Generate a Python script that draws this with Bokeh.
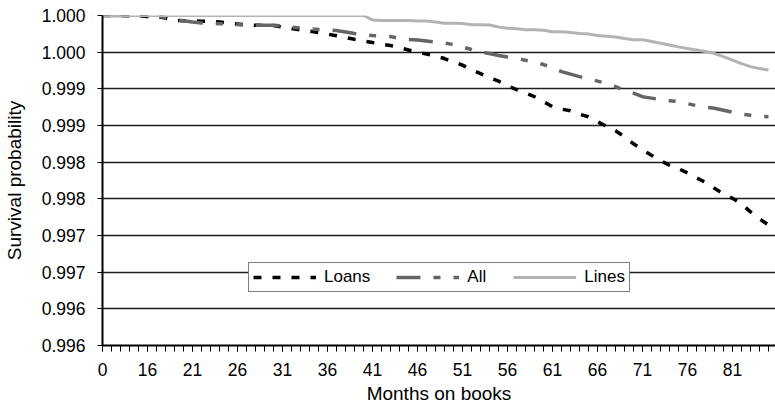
from bokeh.plotting import figure
from bokeh.models import Range1d, FixedTicker, Legend, LegendItem
from bokeh.embed import file_html
from bokeh.resources import INLINE

# Months on books (categories): month 0, then months 12..85
months = [0] + list(range(12, 86))

loans = [1.000000, 1.000000, 1.000000, 0.999996, 0.999993, 0.999986, 0.999986, 0.999966, 0.999932, 0.999928,
         0.999925, 0.999922, 0.999922, 0.999911, 0.999895, 0.999884, 0.999873, 0.999867, 0.999867, 0.999863,
         0.999843, 0.999822, 0.999802, 0.999786, 0.999768, 0.999747, 0.999723, 0.999699, 0.999675, 0.999652,
         0.999631, 0.999611, 0.999590, 0.999563, 0.999529, 0.999501, 0.999474, 0.999447, 0.999413, 0.999365,
         0.999324, 0.999262, 0.999208, 0.999153, 0.999105, 0.999044, 0.998989, 0.998941, 0.998893, 0.998825,
         0.998757, 0.998723, 0.998702, 0.998654, 0.998620, 0.998552, 0.998490, 0.998429, 0.998347, 0.998251,
         0.998169, 0.998094, 0.998019, 0.997958, 0.997910, 0.997855, 0.997787, 0.997725, 0.997643, 0.997568,
         0.997507, 0.997432, 0.997322, 0.997227, 0.997145]

all_ = [1.000000, 1.000000, 1.000000, 1.000000, 1.000000, 1.000000, 0.999993, 0.999973, 0.999939, 0.999928,
        0.999911, 0.999898, 0.999891, 0.999888, 0.999887, 0.999877, 0.999867, 0.999867, 0.999867, 0.999866,
        0.999859, 0.999843, 0.999827, 0.999818, 0.999809, 0.999802, 0.999795, 0.999775, 0.999754, 0.999736,
        0.999727, 0.999720, 0.999713, 0.999686, 0.999672, 0.999665, 0.999652, 0.999638, 0.999624, 0.999604,
        0.999570, 0.999536, 0.999501, 0.999481, 0.999454, 0.999433, 0.999413, 0.999389, 0.999365, 0.999331,
        0.999290, 0.999235, 0.999201, 0.999167, 0.999139, 0.999105, 0.999075, 0.999030, 0.998982, 0.998941,
        0.998893, 0.998873, 0.998852, 0.998839, 0.998825, 0.998798, 0.998771, 0.998750, 0.998736, 0.998709,
        0.998682, 0.998654, 0.998641, 0.998627, 0.998620]

lines = [1.000000] * 30 + [
        0.999939, 0.999932, 0.999932, 0.999932, 0.999932, 0.999925, 0.999925, 0.999911, 0.999895, 0.999895,
        0.999891, 0.999873, 0.999873, 0.999870, 0.999843, 0.999827, 0.999820, 0.999805, 0.999805, 0.999798,
        0.999777, 0.999777, 0.999768, 0.999754, 0.999747, 0.999727, 0.999716, 0.999706, 0.999686, 0.999668,
        0.999668, 0.999645, 0.999622, 0.999597, 0.999572, 0.999549, 0.999529, 0.999508, 0.999481, 0.999440,
        0.999392, 0.999344, 0.999303, 0.999276, 0.999258]

x_tick_labels = ["0", "16", "21", "26", "31", "36", "41", "46", "51", "56", "61", "66", "71", "76", "81"]
y_ticks = [0.9955, 0.996, 0.9965, 0.997, 0.9975, 0.998, 0.9985, 0.999, 0.9995, 1.0]
y_tick_labels = ["0.996", "0.996", "0.997", "0.997", "0.998", "0.998", "0.999", "0.999", "1.000", "1.000"]

FONT = "Liberation Sans"
idx = list(range(len(months)))

p = figure(width=775, height=408, output_backend="svg", toolbar_location=None,
           x_range=Range1d(0, 74.78), y_range=Range1d(0.9955, 1.0),
           min_border_left=102, min_border_top=15, min_border_bottom=63, min_border_right=0)
p.outline_line_color = None
p.background_fill_color = "white"
p.border_fill_color = "white"

major_x = idx[::5]
p.xaxis.ticker = FixedTicker(ticks=major_x, minor_ticks=idx)
p.xaxis.major_label_overrides = {i: lab for i, lab in zip(major_x, x_tick_labels)}
p.xaxis.axis_label = "Months on books"
p.yaxis.ticker = FixedTicker(ticks=y_ticks)
p.yaxis.major_label_overrides = {t: lab for t, lab in zip(y_ticks, y_tick_labels)}
p.yaxis.axis_label = "Survival probability"

for ax in (p.xaxis[0], p.yaxis[0]):
    ax.axis_line_color = "black"
    ax.axis_line_width = 2
    ax.major_tick_line_color = "black"
    ax.minor_tick_line_color = "black"
    ax.major_tick_in = 0
    ax.minor_tick_in = 0
    ax.major_label_text_font = FONT
    ax.major_label_text_font_size = "17.5px"
    ax.major_label_text_color = "black"
    ax.axis_label_text_font = FONT
    ax.axis_label_text_font_size = "19px"
    ax.axis_label_text_font_style = "normal"
    ax.axis_label_text_color = "black"

p.xaxis.major_tick_out = 6
p.xaxis.minor_tick_out = 6
p.xaxis.major_label_standoff = 11
p.xaxis.axis_label_standoff = 4
p.yaxis.major_tick_out = 5
p.yaxis.minor_tick_line_color = None
p.yaxis.major_label_standoff = 12
p.yaxis.axis_label_standoff = 14

p.xgrid.grid_line_color = None
p.ygrid.grid_line_color = "#1e1e1e"
p.ygrid.grid_line_width = 1.5

r_loans = p.line(idx, loans, line_color="black", line_width=3.5, line_dash="8 11")
r_all = p.line(idx, all_, line_color="#656565", line_width=3.5, line_dash="24 13 7 13 7 13")
r_lines = p.line(idx, lines, line_color="#b3b3b3", line_width=3)

legend = Legend(items=[LegendItem(label="Loans", renderers=[r_loans]),
                       LegendItem(label="All", renderers=[r_all]),
                       LegendItem(label="Lines", renderers=[r_lines])],
                orientation="horizontal", location=(146, 53),
                border_line_color="black", border_line_width=1,
                background_fill_color="white", background_fill_alpha=1,
                label_text_font=FONT, label_text_font_size="17px", label_text_color="black",
                glyph_width=63, glyph_height=20, label_standoff=8, spacing=26,
                padding=4, margin=0)
p.add_layout(legend, "center")

open("out.html", "w").write(file_html(p, INLINE))
